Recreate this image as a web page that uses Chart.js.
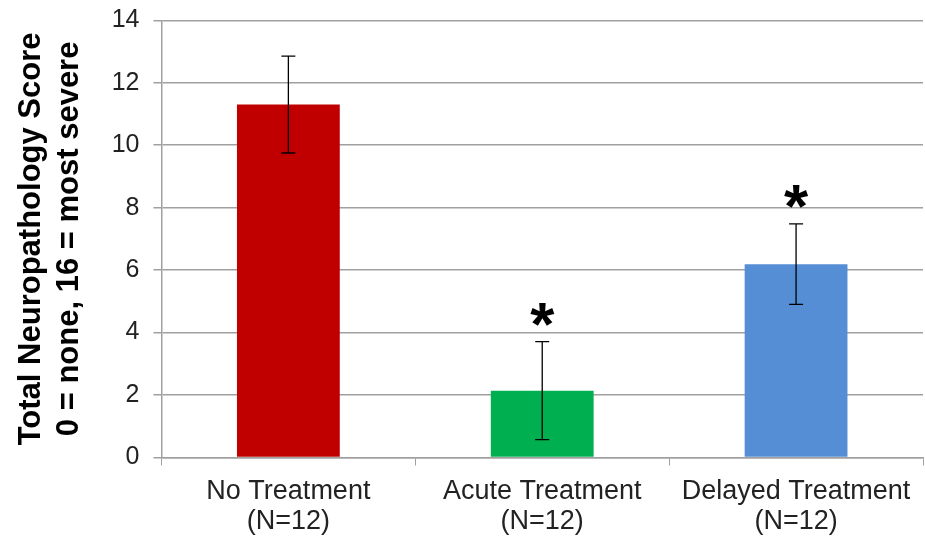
<!DOCTYPE html>
<html>
<head>
<meta charset="utf-8">
<script src="https://cdn.jsdelivr.net/npm/chart.js@4/dist/chart.umd.min.js"></script>
<style>
  html, body { margin: 0; padding: 0; background: #fff; }
  #wrap { width: 925px; height: 540px; }
</style>
</head>
<body>
<div id="wrap"><canvas id="grafica"></canvas></div>
<script>
// datos
const categorias = [["No Treatment", "(N=12)"], ["Acute Treatment", "(N=12)"], ["Delayed Treatment", "(N=12)"]];
const puntajes = [11.3, 2.14, 6.19];
const errores = [1.55, 1.57, 1.29];
const significativo = [false, true, true];
const colores = ["#C00000", "#00B050", "#558ED5"];
const ticksY = [0, 2, 4, 6, 8, 10, 12, 14];

// barras de error y asteriscos
const errorBars = {
  id: "errorBars",
  afterDatasetsDraw(chart) {
    const ctx = chart.ctx;
    const x = chart.scales.x, y = chart.scales.y;
    ctx.save();
    ctx.strokeStyle = "#000";
    ctx.lineWidth = 1.3;
    puntajes.forEach((v, i) => {
      const cx = x.getPixelForValue(i);
      const yt = y.getPixelForValue(v + errores[i]);
      const yb = y.getPixelForValue(v - errores[i]);
      ctx.beginPath();
      ctx.moveTo(cx, yt); ctx.lineTo(cx, yb);
      ctx.moveTo(cx - 7, yt); ctx.lineTo(cx + 7, yt);
      ctx.moveTo(cx - 7, yb); ctx.lineTo(cx + 7, yb);
      ctx.stroke();
      if (significativo[i]) {
        ctx.fillStyle = "#000";
        ctx.font = "bold 62px 'Liberation Sans', Arial, sans-serif";
        ctx.textAlign = "center";
        ctx.textBaseline = "alphabetic";
        ctx.fillText("*", cx, yt + 3);
      }
    });
    ctx.restore();
  }
};

new Chart(document.getElementById("grafica").getContext("2d"), {
  type: "bar",
  data: {
    labels: categorias,
    datasets: [{
      data: puntajes,
      backgroundColor: colores,
      categoryPercentage: 1,
      barPercentage: 0.405
    }]
  },
  options: {
    responsive: true,
    maintainAspectRatio: false,
    animation: false,
    layout: { padding: { top: 1, right: 2, bottom: 3, left: 13 } },
    plugins: { legend: { display: false }, tooltip: { enabled: false } },
    scales: {
      x: {
        afterFit(axis) { axis.height = 79.5; },
        grid: { display: true, drawOnChartArea: false, color: "#A0A0A0", tickLength: 8, offset: true },
        border: { color: "#A0A0A0", width: 1.5 },
        ticks: {
          color: "#222",
          font: { family: "'Liberation Sans', Arial, sans-serif", size: 27, lineHeight: 1.11 },
          padding: 11,
          maxRotation: 0
        }
      },
      y: {
        min: 0,
        max: 14,
        afterBuildTicks(axis) { axis.ticks = ticksY.map(v => ({ value: v })); },
        grid: { color: "#A0A0A0", lineWidth: 1.5, tickLength: 8 },
        border: { color: "#A0A0A0", width: 1.5 },
        ticks: {
          color: "#222",
          font: { family: "'Liberation Sans', Arial, sans-serif", size: 25, lineHeight: 0.5 },
          padding: 14
        },
        title: {
          display: true,
          text: ["Total Neuropathology Score", "0 = none, 16 = most severe"],
          color: "#000",
          font: { family: "'Liberation Sans', Arial, sans-serif", size: 31, weight: "bold", lineHeight: 1.22 },
          padding: { top: 0, bottom: 9 }
        }
      }
    }
  },
  plugins: [errorBars]
});
</script>
</body>
</html>
